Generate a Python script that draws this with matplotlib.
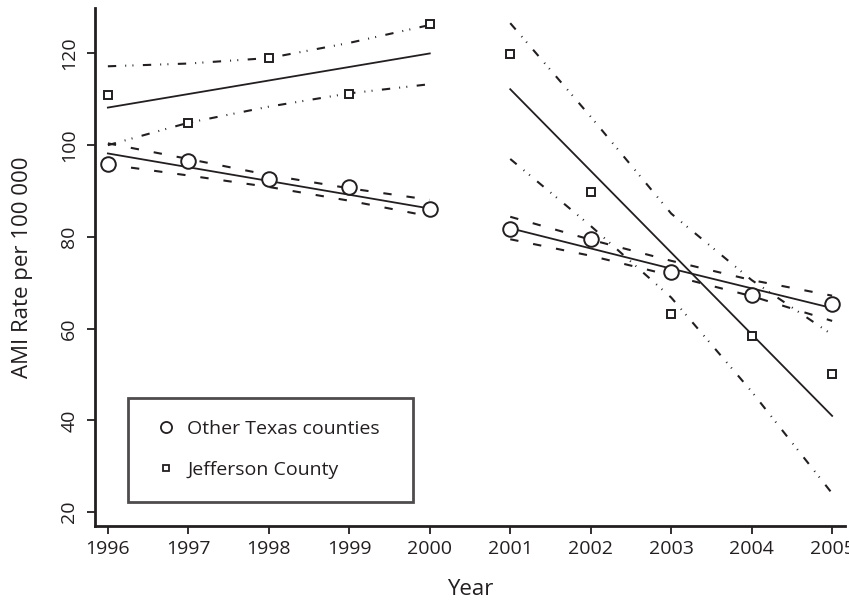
import matplotlib
matplotlib.use('Agg')
import matplotlib.pyplot as plt
from matplotlib.lines import Line2D
import numpy as np

# values
years1 = [1996, 1997, 1998, 1999, 2000]
years2 = [2001, 2002, 2003, 2004, 2005]
years = years1 + years2

texas = [96.0, 96.6, 92.6, 90.9, 86.1, 81.7, 79.5, 72.4, 67.3, 65.4]
jefferson = [110.9, 104.8, 119.0, 111.2, 126.4, 119.8, 89.7, 63.3, 58.4, 50.1]

# fitted trend and confidence limits per period
texas_fit_1 = [98.2, 95.2, 92.2, 89.2, 86.2]
texas_hi_1 = [100.4, 97.0, 93.5, 90.6, 88.1]
texas_lo_1 = [95.8, 93.4, 90.9, 87.9, 84.5]
texas_fit_2 = [81.9, 77.5, 73.1, 68.8, 64.5]
texas_hi_2 = [84.4, 79.4, 74.8, 70.6, 67.2]
texas_lo_2 = [79.5, 75.9, 71.6, 67.1, 61.7]

jeff_fit_1 = [108.2, 111.15, 114.1, 117.05, 120.0]
jeff_hi_1 = [117.2, 117.8, 119.0, 122.3, 126.2]
jeff_lo_1 = [100.0, 104.9, 108.4, 111.3, 113.3]
jeff_fit_2 = [112.2, 94.4, 76.6, 58.8, 41.0]
jeff_hi_2 = [126.6, 106.2, 85.1, 70.6, 58.7]
jeff_lo_2 = [97.0, 82.4, 66.8, 46.3, 24.1]

x_ticks = list(range(1996, 2006))
y_ticks = [20, 40, 60, 80, 100, 120]

ink = '#231f20'
plt.rcParams['font.family'] = ['Open Sans', 'DejaVu Sans']
plt.rcParams['lines.scale_dashes'] = False

fig = plt.figure(figsize=(8.49, 6.03), dpi=100)
ax = fig.add_axes([0.1119, 0.1277, 0.8834, 0.859])

texas_ls = (0, (6, 10.8))
jeff_ls = (0, (6, 6.5, 0.7, 4.5, 0.7, 6.8))

for yrs, fit, hi, lo in [(years1, texas_fit_1, texas_hi_1, texas_lo_1),
                         (years2, texas_fit_2, texas_hi_2, texas_lo_2)]:
    ax.plot(yrs, fit, color=ink, lw=1.3)
    ax.plot(yrs, hi, color=ink, lw=1.5, ls=texas_ls)
    ax.plot(yrs, lo, color=ink, lw=1.5, ls=texas_ls)

for yrs, fit, hi, lo in [(years1, jeff_fit_1, jeff_hi_1, jeff_lo_1),
                         (years2, jeff_fit_2, jeff_hi_2, jeff_lo_2)]:
    ax.plot(yrs, fit, color=ink, lw=1.3)
    ax.plot(yrs, hi, color=ink, lw=1.5, ls=jeff_ls)
    ax.plot(yrs, lo, color=ink, lw=1.5, ls=jeff_ls)

ax.plot(years, texas, ls='none', marker='o', ms=10.5, mfc='white', mec=ink, mew=1.4)
ax.plot(years, jefferson, ls='none', marker='s', ms=5.5, mfc='white', mec=ink, mew=1.4)

ax.set_xlim(1995.84, 2005.16)
ax.set_ylim(17.0, 129.9)
ax.set_xticks(x_ticks)
ax.set_yticks(y_ticks)
ax.set_yticklabels([str(v) for v in y_ticks], rotation=90, va='center')
ax.tick_params(axis='both', direction='out', length=6, width=1.3, colors=ink,
               labelsize=14, labelcolor=ink)
ax.tick_params(axis='x', pad=4)
ax.tick_params(axis='y', pad=6)

for s in ['top', 'right']:
    ax.spines[s].set_visible(False)
for s in ['left', 'bottom']:
    ax.spines[s].set_linewidth(2)
    ax.spines[s].set_color(ink)

ax.set_xlabel('Year', fontsize=16, color=ink, labelpad=15)
ax.set_ylabel('AMI Rate per 100 000', fontsize=16, color=ink, labelpad=20)

handles = [Line2D([], [], ls='none', marker='o', ms=8, mfc='white', mec=ink, mew=1.3),
           Line2D([], [], ls='none', marker='s', ms=5, mfc='white', mec=ink, mew=1.3)]
leg = ax.legend(handles, ['Other Texas counties', 'Jefferson County'],
                loc='lower left', bbox_to_anchor=(0.044, 0.047, 0.38, 0.2), mode='expand',
                fontsize=14, frameon=True, fancybox=False, borderpad=1.15,
                labelspacing=1.2, handlelength=1.6, handletextpad=0.3,
                borderaxespad=0)
leg.get_frame().set_edgecolor(ink)
leg.get_frame().set_linewidth(2)
for t in leg.get_texts():
    t.set_color(ink)

fig.savefig('out.png', dpi=100)
